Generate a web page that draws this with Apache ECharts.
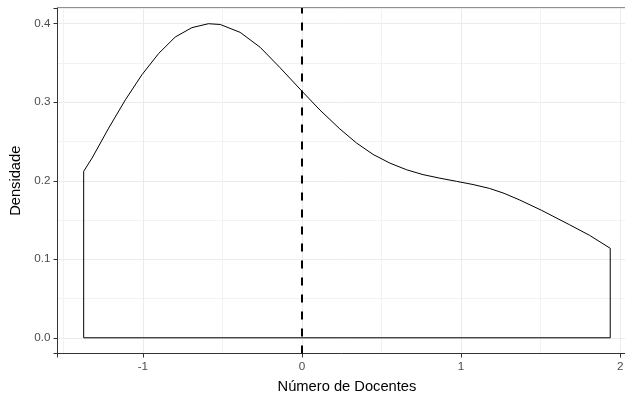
<!DOCTYPE html>
<html><head><meta charset="utf-8">
<script src="https://cdn.jsdelivr.net/npm/echarts@6/dist/echarts.min.js"></script>
<style>html,body{margin:0;padding:0;background:#fff}#c{width:625px;height:398px}</style>
</head><body><div id="c"></div>
<script>
// Density curve (x = Número de Docentes, standardized; y = Densidade)
const densX = [-1.372, -1.319, -1.215, -1.110, -1.006, -0.901, -0.797, -0.692, -0.588, -0.514,
  -0.389, -0.263, -0.138, 0.000, 0.113, 0.238, 0.343, 0.447, 0.552, 0.657,
  0.761, 0.866, 0.970, 1.075, 1.179, 1.270, 1.368, 1.504, 1.681, 1.807, 1.937];
const densY = [0.212, 0.229, 0.267, 0.303, 0.335, 0.362, 0.383, 0.395, 0.400, 0.399,
  0.389, 0.370, 0.344, 0.314, 0.290, 0.266, 0.248, 0.2335, 0.2225, 0.2140,
  0.2078, 0.2033, 0.1993, 0.1952, 0.1902, 0.1840, 0.1755, 0.1625, 0.1440, 0.1305, 0.114];
const xLimits = [-1.5365, 2.1015];
const yLimits = [-0.02, 0.42];
const vlineX = 0;
const xTitle = 'Número de Docentes';
const yTitle = 'Densidade';

const n = densX.length;
const curve = densX.map((x, i) => [x, densY[i]]);
const outline = [[densX[n - 1], densY[n - 1]], [densX[n - 1], 0], [densX[0], 0], [densX[0], densY[0]]];

const FONT = 'Liberation Sans, Arial, sans-serif';
const chart = echarts.init(document.getElementById('c'), null, { renderer: 'canvas' });
const axisCommon = {
  type: 'value',
  axisLine: { show: true, onZero: false, lineStyle: { color: '#333333', width: 1 } },
  axisTick: { show: true, length: 4, lineStyle: { color: '#333333', width: 1 } },
  splitLine: { show: true, lineStyle: { color: '#EBEBEB', width: 1 } },
  minorTick: { show: false, splitNumber: 2 },
  minorSplitLine: { show: true, lineStyle: { color: '#F2F2F2', width: 1 } },
  nameLocation: 'middle',
  nameTextStyle: { fontFamily: FONT, fontSize: 14.7, color: '#000000' }
};
chart.setOption({
  animation: false,
  backgroundColor: '#ffffff',
  grid: { left: 57.5, right: -11.4, top: 8, bottom: 44.5, containLabel: false, outerBoundsMode: 'none',
    show: true, borderColor: '#222222', borderWidth: 1, backgroundColor: 'transparent' },
  xAxis: Object.assign({}, axisCommon, {
    min: xLimits[0], max: xLimits[1],
    name: xTitle, nameGap: 26,
    axisLabel: { margin: 7, fontFamily: FONT, fontSize: 11.7, color: '#4D4D4D',
      formatter: v => Math.abs(v - Math.round(v)) < 1e-6 ? String(Math.round(v)) : '' }
  }),
  yAxis: Object.assign({}, axisCommon, {
    min: yLimits[0], max: yLimits[1],
    name: yTitle, nameGap: 33, nameRotate: 90,
    axisLabel: { margin: 7, fontFamily: FONT, fontSize: 11.7, color: '#4D4D4D',
      formatter: v => { const k = Math.round(v * 10); return Math.abs(v * 10 - k) < 1e-6 ? (k / 10).toFixed(1) : ''; } }
  }),
  series: [
    { type: 'line', data: curve, smooth: false, showSymbol: false, symbol: 'none', silent: true,
      lineStyle: { color: '#000000', width: 1 },
      markLine: { silent: true, symbol: ['none', 'none'], label: { show: false },
        lineStyle: { color: '#000000', width: 2, type: [8, 9] },
        data: [{ xAxis: vlineX }] } },
    { type: 'line', data: outline, smooth: false, showSymbol: false, symbol: 'none', silent: true,
      lineStyle: { color: '#000000', width: 1 } }
  ]
});
</script></body></html>
